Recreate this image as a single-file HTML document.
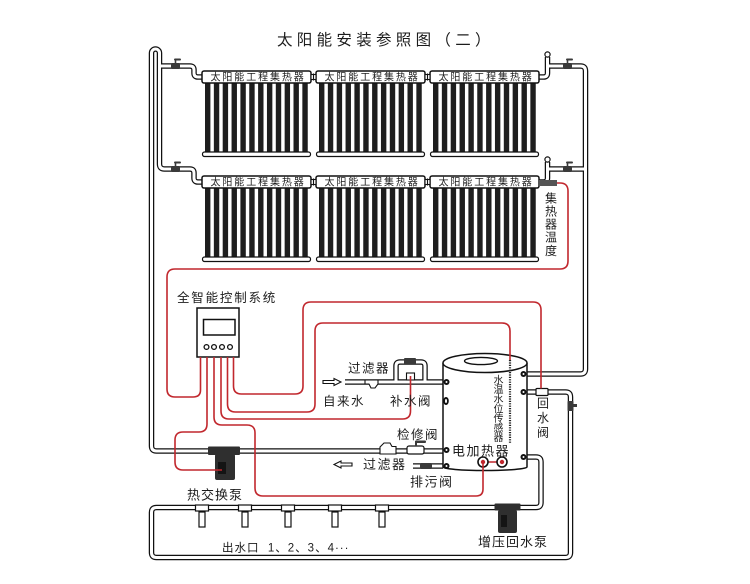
<!DOCTYPE html>
<html><head><meta charset="utf-8"><style>
html,body{margin:0;padding:0;background:#fff;}
svg{display:block;}
text{font-family:"Liberation Sans","Noto Sans CJK SC",sans-serif;fill:#1c1c1c;}
</style></head><body>
<svg width="750" height="584" viewBox="0 0 750 584" xmlns="http://www.w3.org/2000/svg">
<defs>
<g id="tubes" fill="#1e1e1e">
<rect x="3" y="12" width="5.4" height="69"/>
<rect x="11.85" y="12" width="5.4" height="69"/>
<rect x="20.7" y="12" width="5.4" height="69"/>
<rect x="29.55" y="12" width="5.4" height="69"/>
<rect x="38.4" y="12" width="5.4" height="69"/>
<rect x="47.25" y="12" width="5.4" height="69"/>
<rect x="56.1" y="12" width="5.4" height="69"/>
<rect x="64.95" y="12" width="5.4" height="69"/>
<rect x="73.8" y="12" width="5.4" height="69"/>
<rect x="82.65" y="12" width="5.4" height="69"/>
<rect x="91.5" y="12" width="5.4" height="69"/>
<rect x="100.35" y="12" width="5.4" height="69"/>
<rect x="0.5" y="81" width="108" height="4.5" rx="2" fill="#fff" stroke="#111" stroke-width="1.2"/>
<rect x="0" y="0" width="109" height="12" rx="2" fill="#fff" stroke="#111" stroke-width="1.5"/>
</g>
<g id="coup"><rect x="0" y="3.5" width="5" height="5" fill="#fff" stroke="#111" stroke-width="1.1"/><line x1="2.5" y1="2.5" x2="2.5" y2="9.5" stroke="#111" stroke-width="1.1"/></g>
<g id="valve" fill="#3a3a3a"><rect x="0" y="-3" width="9" height="6" rx="1"/><rect x="3.7" y="-6.5" width="1.6" height="4"/><rect x="3" y="-7.5" width="7" height="2" rx="1"/></g>

<path id="p1" d="M203,182 H198 Q194,182 194,178 V173 Q194,169 190,169 H164.5 Q159.5,169 159.5,164 V53 A4,4 0 0 0 151.5,53 V446 Q151.5,451 156.5,451 H443"/>
<path id="p2" d="M159.5,66 H190 Q194,66 194,70 V73 Q194,77 198,77 H203"/>
<path id="p3" d="M527,374 H580.5 Q585.5,374 585.5,369 V71 Q585.5,66 580.5,66 H547.5"/>
<path id="p4" d="M547.5,57 V73 Q547.5,77 543.5,77 H538"/>
<path id="p5" d="M547.5,162 V178 Q547.5,182 543.5,182 H538"/>
<path id="p6" d="M547.5,169 H585.5"/>
<path id="p7" d="M527,392 H565.5 Q570.5,392 570.5,397 V552.5 Q570.5,557.5 565.5,557.5 H156.5 Q151.5,557.5 151.5,552.5 V512.5 Q151.5,507.5 156.5,507.5 H536 Q541,507.5 541,502.5 V462 Q541,457 536,457 H527"/>
<path id="p8" d="M345,382 H443"/>
<path id="p9" d="M396,382 V366 Q396,362 400,362 H421 Q425,362 425,366 V382"/>
<path id="p10" d="M413,466 H443"/>
</defs>

<!-- title -->
<text x="277" y="45" font-size="15.5" letter-spacing="4.3">太阳能安装参照图（二）</text>

<!-- pipes -->
<g fill="none" stroke="#111" stroke-width="5.5">
<use href="#p1"/><use href="#p2"/><use href="#p3"/><use href="#p4"/><use href="#p5"/><use href="#p6"/><use href="#p7"/><use href="#p8"/><use href="#p9"/><use href="#p10"/>
</g>
<g fill="none" stroke="#fff" stroke-width="3">
<use href="#p1"/><use href="#p2"/><use href="#p3"/><use href="#p4"/><use href="#p5"/><use href="#p6"/><use href="#p7"/><use href="#p8"/><use href="#p9"/><use href="#p10"/>
</g>

<!-- collectors -->
<use href="#tubes" transform="translate(202,71)"/>
<use href="#tubes" transform="translate(316,71)"/>
<use href="#tubes" transform="translate(430,71)"/>
<use href="#tubes" transform="translate(202,176)"/>
<use href="#tubes" transform="translate(316,176)"/>
<use href="#tubes" transform="translate(430,176)"/>
<use href="#coup" transform="translate(311,71)"/>
<use href="#coup" transform="translate(425,71)"/>
<use href="#coup" transform="translate(311,176)"/>
<use href="#coup" transform="translate(425,176)"/>
<g font-size="10" letter-spacing="1.9">
<text x="210.5" y="80.5">太阳能工程集热器</text>
<text x="324.5" y="80.5">太阳能工程集热器</text>
<text x="438.5" y="80.5">太阳能工程集热器</text>
<text x="210.5" y="185.5">太阳能工程集热器</text>
<text x="324.5" y="185.5">太阳能工程集热器</text>
<text x="438.5" y="185.5">太阳能工程集热器</text>
</g>

<!-- vent caps & sensor -->
<g fill="#fff" stroke="#111" stroke-width="1.2">
<circle cx="547.5" cy="54.5" r="2.6"/>
<circle cx="547.5" cy="159.5" r="2.6"/>
</g>
<rect x="538" y="180" width="19" height="6" fill="#555"/>

<!-- valves on branches -->
<use href="#valve" transform="translate(171,66)"/>
<use href="#valve" transform="translate(171,169)"/>
<use href="#valve" transform="translate(563,66)"/>
<use href="#valve" transform="translate(563,169)"/>
<g fill="#3a3a3a"><rect x="567.5" y="401" width="6" height="10" rx="1"/><rect x="573" y="404" width="4" height="3"/></g>

<!-- tank -->
<path d="M443,363 V467 A42,3.5 0 0 0 527,467 V363" fill="#fff" stroke="#111" stroke-width="1.5"/>
<ellipse cx="485" cy="363" rx="42" ry="9.5" fill="#fff" stroke="#111" stroke-width="1.5"/>
<ellipse cx="481" cy="361" rx="16.5" ry="3.6" fill="#fff" stroke="#111" stroke-width="1.4"/>
<line x1="510" y1="360" x2="510" y2="443" stroke="#222" stroke-width="2.2" stroke-dasharray="1.2 1.2"/>
<g fill="#111">
<circle cx="446.5" cy="382" r="3"/><ellipse cx="446" cy="401" rx="2.8" ry="4"/><circle cx="446.5" cy="450" r="3"/><circle cx="446.5" cy="466" r="3"/>
<circle cx="523.5" cy="374" r="3"/><circle cx="523.5" cy="392" r="3"/><circle cx="523.5" cy="457" r="3"/>
</g>
<g fill="#fff">
<circle cx="446.5" cy="382" r="1"/><ellipse cx="446" cy="401" rx="1" ry="2"/><circle cx="446.5" cy="450" r="1"/><circle cx="446.5" cy="466" r="1"/>
<circle cx="523.5" cy="374" r="1"/><circle cx="523.5" cy="392" r="1"/><circle cx="523.5" cy="457" r="1"/>
</g>
<!-- heater -->
<line x1="483" y1="462" x2="502" y2="462" stroke="#c1272d" stroke-width="1.6"/>
<circle cx="483" cy="462" r="5" fill="#fff" stroke="#111" stroke-width="1.6"/>
<circle cx="502" cy="462" r="5" fill="#fff" stroke="#111" stroke-width="1.6"/>
<circle cx="483" cy="462" r="2.2" fill="#c1272d"/>
<circle cx="502" cy="462" r="2.2" fill="#c1272d"/>

<!-- fittings on tap water line -->
<path d="M365,380 L378,380 L378,384 L375,388 L371,388 L369,384 L365,384 Z" fill="#fff" stroke="#111" stroke-width="1.1"/>
<rect x="404" y="358" width="12" height="6" rx="1" fill="#3a3a3a"/>
<rect x="406.5" y="373" width="8" height="7" fill="#fff" stroke="#111" stroke-width="1.1"/>
<path d="M323,380.5 H334 V378.5 L341,382 L334,385.5 V383.5 H323 Z" fill="#fff" stroke="#111" stroke-width="1.1"/>

<!-- lower line fittings -->
<path d="M380,447 L384,443 L390,443 L392,446.5 L396,446.5 L396,454 L380,454 Z" fill="#fff" stroke="#111" stroke-width="1.1"/>
<rect x="407" y="446" width="17" height="8" rx="2" fill="#fff" stroke="#111" stroke-width="1.2"/>
<g fill="#3a3a3a"><rect x="415" y="441" width="2" height="5"/><rect x="415" y="440.5" width="11" height="2.5" rx="1"/></g>
<rect x="420" y="463" width="12" height="6" rx="1" fill="#3a3a3a"/>
<path d="M352,463 H341 V461 L334,464.5 L341,468 V466 H352 Z" fill="#fff" stroke="#111" stroke-width="1.1"/>

<!-- return valve -->
<rect x="536" y="388.5" width="12" height="7" rx="1" fill="#fff" stroke="#111" stroke-width="1.2"/>

<!-- outlets -->
<g fill="#fff" stroke="#111" stroke-width="1.2">
<rect x="199" y="512" width="6" height="15"/><rect x="195.5" y="505" width="13" height="6"/>
<rect x="242" y="512" width="6" height="15"/><rect x="238.5" y="505" width="13" height="6"/>
<rect x="285" y="512" width="6" height="15"/><rect x="281.5" y="505" width="13" height="6"/>
<rect x="332" y="512" width="6" height="15"/><rect x="328.5" y="505" width="13" height="6"/>
<rect x="379" y="512" width="6" height="15"/><rect x="375.5" y="505" width="13" height="6"/>
</g>

<!-- pumps -->
<g fill="#2f2f2f">
<rect x="208" y="446.5" width="32" height="8.5" rx="1"/><rect x="215" y="454" width="20" height="26" rx="2"/>
<rect x="494.5" y="503.5" width="26" height="7" rx="1"/><rect x="498" y="510" width="19" height="23" rx="2"/>
</g>
<g fill="#141414"><rect x="218" y="462" width="8" height="12"/><rect x="501" y="515" width="6" height="12"/></g>

<!-- controller -->
<rect x="197" y="308" width="42" height="49" fill="#fff" stroke="#111" stroke-width="1.5"/>
<rect x="203.5" y="319.5" width="31.5" height="15.5" fill="#fff" stroke="#111" stroke-width="1.5"/>
<g fill="#fff" stroke="#111" stroke-width="1.3">
<circle cx="206.5" cy="347" r="2.4"/><circle cx="214" cy="347" r="2.4"/><circle cx="222" cy="347" r="2.4"/><circle cx="230" cy="347" r="2.4"/>
</g>

<!-- wires -->
<g fill="none" stroke="#c1272d" stroke-width="1.6">
<path d="M557,183 H560 Q568,183 568,191 V261 Q568,269 560,269 H175 Q167,269 167,277 V389 Q167,397 175,397 H193 Q200.5,397 200.5,390 V357"/>
<path d="M233.5,357 V386 Q233.5,394 241.5,394 H295 Q303,394 303,386 V310 Q303,302 311,302 H533 Q541,302 541,310 V388.5"/>
<path d="M227.5,357 V404 Q227.5,412 235.5,412 H307 Q315,412 315,404 V331 Q315,323 323,323 H502 Q510,323 510,331 V360"/>
<path d="M221,357 V411 Q221,419 229,419 H402.5 Q410.5,419 410.5,411 V376"/>
<path d="M214,357 V417 Q214,425 222,425 H247 Q255,425 255,433 V488 Q255,496 263,496 H476 Q483,496 483,489 V464"/>
<path d="M207,357 V424 Q207,432 199,432 H183 Q175,432 175,440 V462 Q175,470 183,470 H222"/>
</g>

<!-- labels -->
<text x="177" y="302" font-size="12.5" letter-spacing="1.8">全智能控制系统</text>
<g font-size="12" text-anchor="middle">
<text x="551" y="202.5">集</text><text x="551" y="215.5">热</text><text x="551" y="228.5">器</text><text x="551" y="241.5">温</text><text x="551" y="255">度</text>
<text x="543" y="407.5">回</text><text x="543" y="422">水</text><text x="543" y="436.5">阀</text>
</g>
<g font-size="10" text-anchor="middle">
<text x="498.5" y="383.5">水</text><text x="498.5" y="393.1">温</text><text x="498.5" y="402.7">水</text><text x="498.5" y="412.3">位</text><text x="498.5" y="421.9">传</text><text x="498.5" y="431.5">感</text><text x="498.5" y="441.1">器</text>
</g>
<g font-size="12.5" letter-spacing="1.5">
<text x="348" y="372.5">过滤器</text>
<text x="323" y="405.5">自来水</text>
<text x="390" y="405.5">补水阀</text>
<text x="397" y="439">检修阀</text>
</g>
<g font-size="13" letter-spacing="1.5">
<text x="452" y="455.5">电加热器</text>
<text x="363" y="469">过滤器</text>
<text x="410" y="486.5">排污阀</text>
</g>
<text x="187" y="499.5" font-size="13" letter-spacing="1">热交换泵</text>
<text x="478" y="546.5" font-size="13" letter-spacing="1">增压回水泵</text>
<text x="222" y="551.5" font-size="11.5" letter-spacing="1">出水口&#160;&#160;1、2、3、4···</text>
</svg>
</body></html>
